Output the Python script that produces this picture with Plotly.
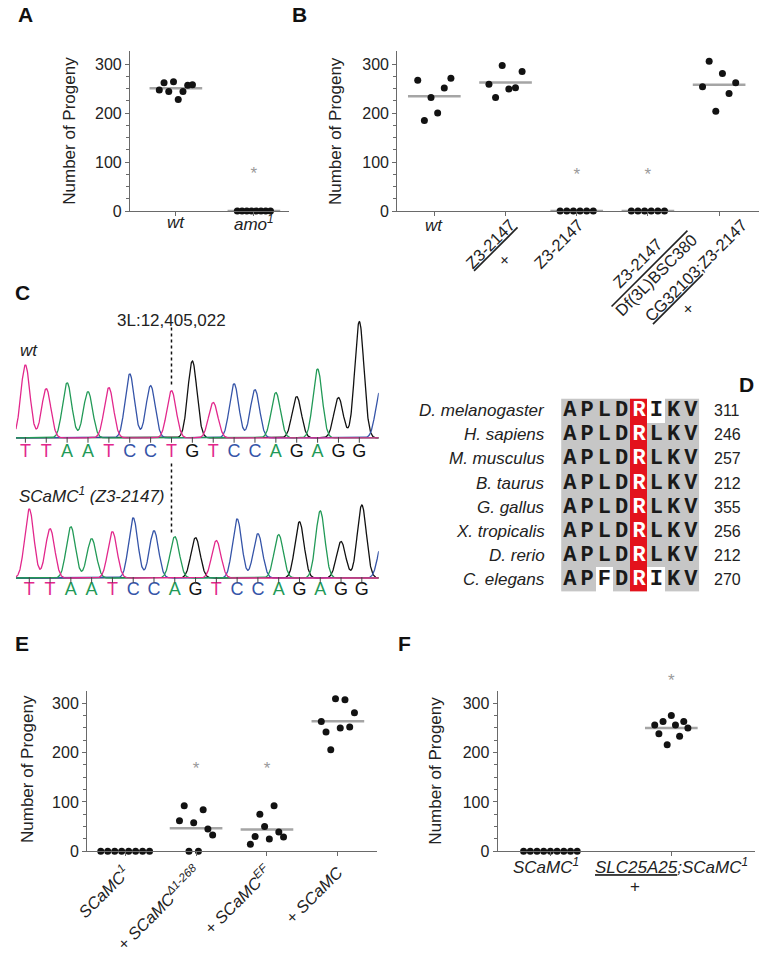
import numpy as np
import plotly.graph_objects as go
from collections import Counter

W, H = 769, 953
FONT = "Liberation Sans, Arial, sans-serif"
MONO = "Liberation Mono, Courier New, monospace"
AX = "#6a6a6a"
DOT = "#121212"
MEAN = "#a5a5a5"
STAR = "#9a9a9a"
TXT = "#222222"
NB = "\u00a0"

# ---------------- data ----------------
# Panel A (values listed left to right as plotted)
A_labels = ["<i>wt</i>", "<i>amo<sup>1</sup></i>"]
A_wt = [247, 262, 244, 264, 228, 244, 257, 258]
A_amo1 = [0, 0, 0, 0, 0, 0, 0, 0]
A_stars = [None, 75]

# Panel B
B_wt = [267, 185, 232, 200, 251, 271]
B_het = [259, 232, 297, 249, 252, 285]
B_hom = [0, 0, 0, 0, 0, 0]
B_df = [0, 0, 0, 0, 0, 0]
B_rescue = [254, 306, 204, 281, 240, 262]
B_stars = [None, None, 73, 73, None]
B_first_label = "<i>wt</i>"
B_rot_labels = [
    "<u>Z3-2147</u><br>+" + NB * 6,
    "Z3-2147",
    "Z3-2147" + NB * 6 + "<br><span style='text-decoration:overline'>Df(3L)BSC380</span>",
    "<u>CG32103</u>;Z3-2147<br>+" + NB * 21,
]
B_rot_label_shift_px = [5, 2, 30, 24]

# Panel C (chromatogram peaks, heights in trace units)
C_wt_called = "TTAATCCTGTCCAGAGG"
C_wt_peaks = "TTAATCCTGTCCAGAGGC"
C_wt_heights = [74, 50, 56, 47, 51, 65, 53, 48, 78, 36, 55, 49, 46, 42, 70, 41, 118, 48]
C_mut_called = "TTAATCCAGTCCAGAGG"
C_mut_peaks = "TTAATCCAGTCCAGAGGC"
C_mut_heights = [70, 50, 52, 40, 47, 61, 48, 42, 41, 38, 60, 45, 44, 57, 68, 37, 74, 39]
C_position = "3L:12,405,022"

# Panel D
D_species = ["D. melanogaster", "H. sapiens", "M. musculus", "B. taurus",
             "G. gallus", "X. tropicalis", "D. rerio", "C. elegans"]
D_seqs = ["APLDRIKV", "APLDRLKV", "APLDRLKV", "APLDRLKV",
          "APLDRLKV", "APLDRLKV", "APLDRLKV", "APFDRIKV"]
D_end = [311, 246, 257, 212, 355, 256, 212, 270]
D_mut_col = 4

# Panel E
E_labels = ["<i>SCaMC<sup>1</sup></i>", "+ <i>SCaMC<sup>Δ1-268</sup></i>",
            "+ <i>SCaMC<sup>EF</sup></i>", "+ <i>SCaMC</i>"]
E_null = [0, 0, 0, 0, 0, 0, 0, 0]
E_delta = [62, 92, 0, 58, 0, 84, 45, 33]
E_ef = [14, 30, 75, 50, 25, 92, 39, 29]
E_full = [263, 242, 206, 309, 250, 307, 252, 281]
E_stars = [None, 166, 166, None]

# Panel F
F_null = [0, 0, 0, 0, 0, 0, 0, 0, 0]
F_slc = [256, 238, 263, 216, 275, 256, 233, 263, 250]
F_star_category = 1

# ---------------- helpers ----------------
def px(x):
    return x / W


def py(y):
    return 1 - y / H


def sid(n):
    return "" if n == 1 else str(n)


fig = go.Figure()
annotations = []
shapes = []
layout_axes = {}


def ann(text, x_px, y_px, angle=0, size=17, color=TXT,
        xanchor="center", yanchor="middle", family=FONT):
    annotations.append(dict(
        text=text, x=px(x_px), y=py(y_px), xref="paper", yref="paper",
        textangle=angle, showarrow=False,
        font=dict(size=size, color=color, family=family),
        xanchor=xanchor, yanchor=yanchor))


def dot_panel(n, groups, stars, xl, xr, ytop, y0px, y300px, cat0, catw,
              spreads, mean_hw=27, ticklabels=None):
    s = sid(n)
    xa, ya = "x" + s, "y" + s
    scale = (y0px - y300px) / 300.0
    ymax = (y0px - ytop) / scale
    for i, vals in enumerate(groups):
        vals = np.asarray(vals, float)
        hw = spreads[i] / catw
        offs = np.linspace(-hw, hw, len(vals))
        m = vals.mean()
        lh = mean_hw / catw
        fig.add_trace(go.Scatter(x=[i - lh, i + lh], y=[m, m], mode="lines",
                                 line=dict(color=MEAN, width=2.5),
                                 xaxis=xa, yaxis=ya, hoverinfo="skip"))
        fig.add_trace(go.Scatter(x=i + offs, y=vals, mode="markers",
                                 marker=dict(size=7, color=DOT, line=dict(width=0)),
                                 xaxis=xa, yaxis=ya, cliponaxis=False))
    sx = [i for i, v in enumerate(stars) if v is not None]
    sy = [v for v in stars if v is not None]
    if sx:
        fig.add_trace(go.Scatter(x=sx, y=sy, mode="text", text=["*"] * len(sx),
                                 textfont=dict(size=17, color=STAR, family=FONT),
                                 xaxis=xa, yaxis=ya, cliponaxis=False, hoverinfo="skip"))
    xrange = [(xl - cat0) / catw, (xr - cat0) / catw]
    xaxis = dict(domain=[px(xl), px(xr)], range=xrange,
                 anchor=ya, tickvals=list(range(len(groups))),
                 ticks="outside", ticklen=4, tickcolor=AX, tickwidth=1,
                 showline=True, linecolor=AX, linewidth=1.2,
                 showgrid=False, zeroline=False, showticklabels=False)
    if ticklabels is not None:
        xaxis.update(showticklabels=True, ticktext=ticklabels, tickangle=-45,
                     ticklabeloverflow="allow",
                     tickfont=dict(size=16.5, color=TXT, family=FONT))
    layout_axes["xaxis" + s] = xaxis
    layout_axes["yaxis" + s] = dict(
        domain=[py(y0px), py(ytop)], range=[0, ymax], anchor=xa,
        tickvals=[0, 100, 200, 300], ticks="outside", ticklen=4,
        tickcolor=AX, tickwidth=1, showline=True, linecolor=AX, linewidth=1.2,
        minor=dict(tickvals=[25, 50, 75, 125, 150, 175, 225, 250, 275],
                   ticks="outside", ticklen=3, tickcolor=AX, tickwidth=1),
        showgrid=False, zeroline=False,
        tickfont=dict(size=16, color=TXT, family=FONT))

    def cat_px(i):
        return cat0 + catw * i
    return cat_px, xrange, catw


# ---------------- Panel A ----------------
catA, _, _ = dot_panel(1, [A_wt, A_amo1], A_stars, 120, 283, 52, 214, 65, 167, 80,
                       spreads=[17, 17])
for i, lab in enumerate(A_labels):
    ann(lab, catA(i), 226)
ann("Number of Progeny", 58, 133, angle=-90)

# ---------------- Panel B ----------------
catB, xrB, cwB = dot_panel(2, [B_wt, B_het, B_hom, B_df, B_rescue], B_stars,
                           394, 765, 52, 214, 65, 432, 73,
                           spreads=[17, 17, 17, 17, 17])
ann(B_first_label, catB(0), 229)
# rotated genotype labels: an overlaying axis that carries only the tick labels
fig.add_trace(go.Scatter(x=[None], y=[None], xaxis="x8", yaxis="y2",
                         mode="markers", hoverinfo="skip"))
layout_axes["xaxis8"] = dict(
    overlaying="x2", anchor="y2", range=xrB,
    tickvals=[1 + k + sh / cwB for k, sh in enumerate(B_rot_label_shift_px)],
    ticktext=B_rot_labels, tickangle=-45, ticks="", ticklen=0,
    ticklabeloverflow="allow",
    showline=False, showgrid=False, zeroline=False,
    tickfont=dict(size=16.5, color=TXT, family=FONT))
ann("Number of Progeny", 330, 133, angle=-90)

# ---------------- Panel C ----------------
BASE_COL = {"T": "#e2288c", "A": "#229a57", "C": "#3554a8", "G": "#111111"}
SIG = 0.22


def chrom(n, peaks, heights, called, xl, xr, first_px, step_px, base_px, lab_dy):
    s = sid(n)
    xa, ya = "x" + s, "y" + s
    lo = (xl - first_px) / step_px
    hi = (xr - first_px) / step_px
    xs = np.linspace(lo, hi, 1400)
    for b in "GCAT":
        y = np.zeros_like(xs)
        for i, (pb, h) in enumerate(zip(peaks, heights)):
            if pb == b:
                y += h * np.exp(-0.5 * ((xs - i) / SIG) ** 2)
        fig.add_trace(go.Scatter(x=xs, y=y, mode="lines",
                                 line=dict(color=BASE_COL[b], width=1.3),
                                 xaxis=xa, yaxis=ya, hoverinfo="skip"))
    idx = list(range(len(called)))
    fig.add_trace(go.Scatter(x=idx, y=[-lab_dy] * len(idx), mode="text",
                             text=list(called),
                             textfont=dict(size=18, color=[BASE_COL[c] for c in called],
                                           family=FONT),
                             xaxis=xa, yaxis=ya, cliponaxis=False, hoverinfo="skip"))
    # small tick marks under each called base, hanging from the baseline
    fig.add_trace(go.Scatter(x=idx, y=[-2] * len(idx), mode="markers",
                             marker=dict(symbol="line-ns", size=4,
                                         line=dict(color="#444", width=1)),
                             xaxis=xa, yaxis=ya, cliponaxis=False, hoverinfo="skip"))
    layout_axes["xaxis" + s] = dict(
        domain=[px(xl), px(xr)], range=[lo, hi], anchor=ya, visible=False)
    layout_axes["yaxis" + s] = dict(
        domain=[py(base_px + 28), py(base_px - 130)], range=[-28, 130], anchor=xa,
        visible=False)
    return lambda i: first_px + step_px * i


catC = chrom(3, C_wt_peaks, C_wt_heights, C_wt_called, 3, 375, 12.7, 21.4, 444, 15)
chrom(4, C_mut_peaks, C_mut_heights, C_mut_called, 3, 375, 16.7, 21.31, 586, 12.6)
mut_idx = next(i for i, (a, b) in enumerate(zip(C_wt_called, C_mut_called)) if a != b)
ann(C_position, catC(mut_idx), 325)
ann("<i>wt</i>", 5, 355, xanchor="left")
ann("<i>SCaMC<sup>1</sup> (Z3-2147)</i>", 4, 502, xanchor="left")
for y0, y1 in [(332, 392), (470, 541)]:
    shapes.append(dict(type="line", xref="x3", yref="paper", x0=mut_idx, x1=mut_idx,
                       y0=py(y0), y1=py(y1),
                       line=dict(color="#111", width=1.5, dash="dot")))

# ---------------- Panel D ----------------
ncol = len(D_seqs[0])
consensus = [Counter(seq[c] for seq in D_seqs).most_common(1)[0][0] for c in range(ncol)]
z = []
for seq in D_seqs:
    row = []
    for c, aa in enumerate(seq):
        if c == D_mut_col:
            row.append(2)
        elif aa == consensus[c]:
            row.append(1)
        else:
            row.append(0)
    z.append(row)
fig.add_trace(go.Heatmap(z=z, x=list(range(ncol)), y=list(range(len(D_seqs))),
                         colorscale=[[0, "#ffffff"], [0.5, "#c6c6c6"], [1, "#e3121c"]],
                         zmin=0, zmax=2, showscale=False, xaxis="x5", yaxis="y5",
                         hoverinfo="skip"))
lx, ly, lt, lc = [], [], [], []
for r, seq in enumerate(D_seqs):
    for c, aa in enumerate(seq):
        lx.append(c)
        ly.append(r)
        lt.append(aa)
        lc.append("#ffffff" if c == D_mut_col else "#1a1a1a")
fig.add_trace(go.Scatter(x=lx, y=ly, text=lt, mode="text",
                         textfont=dict(family=MONO, size=22, color=lc, weight="bold"),
                         xaxis="x5", yaxis="y5", hoverinfo="skip", cliponaxis=False))
layout_axes["xaxis5"] = dict(domain=[px(562), px(704)], range=[-0.5, ncol - 0.5],
                             anchor="y5", visible=False)
layout_axes["yaxis5"] = dict(domain=[py(600), py(404)], range=[len(D_seqs) - 0.5, -0.5],
                             anchor="x5", visible=False)
for r, sp in enumerate(D_species):
    annotations.append(dict(text="<i>%s</i>" % sp, x=-0.5, y=r, xref="x5", yref="y5",
                            xanchor="right", yanchor="middle", xshift=-14, showarrow=False,
                            font=dict(size=17, color=TXT, family=FONT)))
    annotations.append(dict(text=str(D_end[r]), x=ncol - 0.5, y=r, xref="x5", yref="y5",
                            xanchor="left", yanchor="middle", xshift=12, showarrow=False,
                            font=dict(size=16, color=TXT, family=FONT)))

# ---------------- Panel E ----------------
dot_panel(6, [E_null, E_delta, E_ef, E_full], E_stars, 76, 373, 701, 863, 713,
          115, 72.7, spreads=[25, 17, 17, 17], ticklabels=E_labels)
ann("Number of Progeny", 15, 780, angle=-90)

# ---------------- Panel F ----------------
catF, _, _ = dot_panel(7, [F_null, F_slc], [None, None], 497, 761, 701, 863, 713,
                       551, 124, spreads=[27.5, 17])
ann("*", catF(F_star_category), 690, size=17, color=STAR)
ann("<i>SCaMC<sup>1</sup></i>", catF(0) - 4, 878)
ann("<i><u>SLC25A25</u>;SCaMC<sup>1</sup></i>", catF(1), 878)
ann("+", catF(1) - 37, 899)
ann("Number of Progeny", 433, 781, angle=-90)

# ---------------- panel letters ----------------
for letter, (lx_, ly_) in {"A": (13, 15), "B": (294, 15), "C": (10, 297),
                           "D": (752, 390), "E": (9, 652), "F": (401, 652)}.items():
    ann("<b>%s</b>" % letter, lx_, ly_, size=21, color="#111")

fig.update_layout(
    width=W, height=H, margin=dict(l=0, r=0, t=0, b=0),
    paper_bgcolor="white", plot_bgcolor="rgba(0,0,0,0)",
    showlegend=False, annotations=annotations, shapes=shapes,
    font=dict(family=FONT, color=TXT),
    **layout_axes)

fig.write_html("out.html", config={"displayModeBar": False},
               post_script="document.body.style.margin='0';")
